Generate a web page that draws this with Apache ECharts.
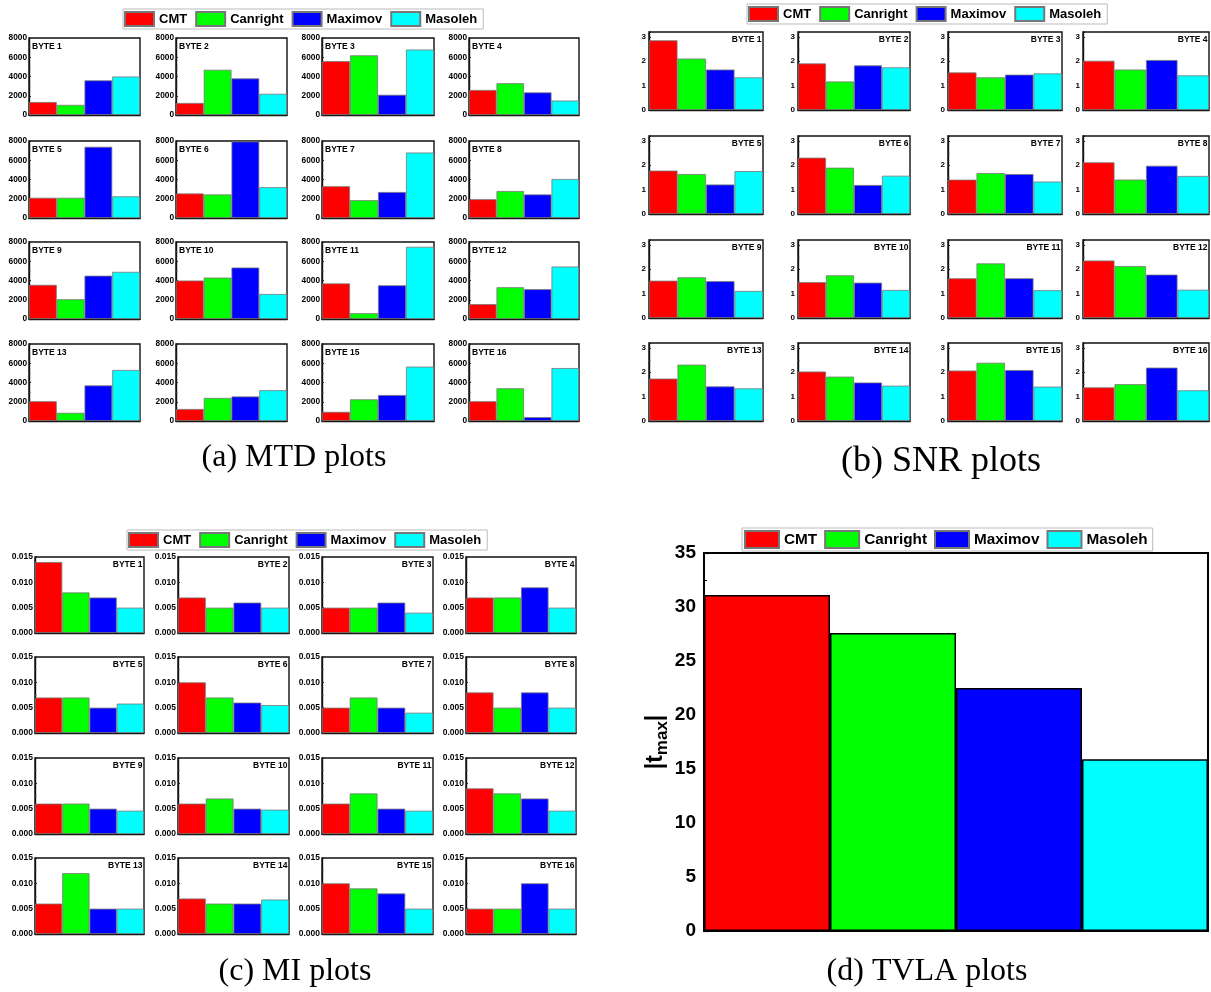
<!DOCTYPE html>
<html><head><meta charset="utf-8">
<script src="https://cdn.jsdelivr.net/npm/echarts@6/dist/echarts.min.js"></script>
<style>html,body{margin:0;padding:0;background:#fff}#c{width:1211px;height:992px}</style>
</head><body><div id="c"></div>
<script>
// ---------- DATA ----------
const methods = ['CMT', 'Canright', 'Maximov', 'Masoleh'];
const colors = ['#ff0000', '#00ff00', '#0000ff', '#00ffff'];
const byteLabels = ['BYTE 1','BYTE 2','BYTE 3','BYTE 4','BYTE 5','BYTE 6','BYTE 7','BYTE 8',
  'BYTE 9','BYTE 10','BYTE 11','BYTE 12','BYTE 13','BYTE 14','BYTE 15','BYTE 16'];
// MTD per byte: [CMT, Canright, Maximov, Masoleh]
const mtdData = [
  [1350, 1050, 3600, 4000], [1250, 4700, 3800, 2200], [5600, 6200, 2100, 6800], [2600, 3300, 2350, 1500],
  [2100, 2100, 7400, 2250], [2550, 2450, 7950, 3200], [3300, 1850, 2700, 6800], [1950, 2800, 2450, 4050],
  [3550, 2050, 4500, 4900], [4000, 4300, 5350, 2600], [3700, 600, 3500, 7500], [1550, 3300, 3100, 5450],
  [2050, 850, 3700, 5300], [1250, 2400, 2550, 3200], [950, 2250, 2700, 5650], [2050, 3400, 400, 5500]
];
const snrData = [
  [2.86, 2.11, 1.66, 1.34], [1.91, 1.17, 1.83, 1.75], [1.54, 1.34, 1.45, 1.50], [2.02, 1.66, 2.05, 1.42],
  [1.78, 1.64, 1.21, 1.76], [2.31, 1.90, 1.19, 1.57], [1.41, 1.68, 1.64, 1.33], [2.12, 1.41, 1.98, 1.56],
  [1.53, 1.67, 1.51, 1.11], [1.47, 1.75, 1.45, 1.15], [1.63, 2.24, 1.63, 1.14], [2.36, 2.13, 1.78, 1.16],
  [1.74, 2.31, 1.42, 1.34], [2.03, 1.82, 1.58, 1.45], [2.07, 2.39, 2.09, 1.41], [1.38, 1.51, 2.19, 1.26]
];
const miData = [
  [0.014, 0.008, 0.007, 0.005], [0.007, 0.005, 0.006, 0.005], [0.005, 0.005, 0.006, 0.004], [0.007, 0.007, 0.009, 0.005],
  [0.007, 0.007, 0.005, 0.0058], [0.010, 0.007, 0.006, 0.0055], [0.005, 0.007, 0.005, 0.004], [0.008, 0.005, 0.008, 0.005],
  [0.006, 0.006, 0.005, 0.0046], [0.006, 0.007, 0.005, 0.0048], [0.006, 0.008, 0.005, 0.0046], [0.009, 0.008, 0.007, 0.0046],
  [0.006, 0.012, 0.005, 0.005], [0.007, 0.006, 0.006, 0.0068], [0.010, 0.009, 0.008, 0.005], [0.005, 0.005, 0.010, 0.005]
];
const tvlaData = [31.1, 27.6, 22.5, 15.9];
const captions = ['(a) MTD plots', '(b) SNR plots', '(c) MI plots', '(d) TVLA plots'];

// ---------- LAYOUT ----------
const FONT = 'Liberation Sans';
const SERIF = 'Liberation Serif';
const panels = [
  { data: mtdData, min: 0, max: 8000, interval: 2000, xs: [29, 176, 322, 469], ws: [111, 111, 112, 110],
    ys: [38, 141, 242, 344], h: 77, titleAlign: 'left', fmt: v => String(v), labelSize: 8.3, labelMargin: 2,
    hideTitle: [13], showMax: true },
  { data: snrData, min: 0, max: 3.2, interval: 1, xs: [649, 798, 948, 1083], ws: [114, 112, 114, 126],
    ys: [32, 136, 240, 343], h: 78, titleAlign: 'right', fmt: v => String(v), labelSize: 8, labelMargin: 3,
    hideTitle: [], showMax: false },
  { data: miData, min: 0, max: 0.015, interval: 0.005, xs: [35, 178, 322, 466], ws: [109, 111, 111, 110],
    ys: [557, 657, 758, 858], h: 76, titleAlign: 'right', fmt: v => v.toFixed(3), labelSize: 8.5, labelMargin: 2,
    hideTitle: [], showMax: true }
];

const grids = [], xAxes = [], yAxes = [], series = [], graphics = [];

function addBars(gi, values, borderColor, borderWidth) {
  methods.forEach((m, k) => {
    series.push({
      type: 'bar', name: m, xAxisIndex: gi, yAxisIndex: gi, stack: 'g' + gi,
      barCategoryGap: '0%', silent: true, animation: false,
      data: methods.map((_, j) => j === k ? values[k] : '-'),
      itemStyle: { color: colors[k], borderColor: borderColor, borderWidth: borderWidth }
    });
  });
}

panels.forEach(p => {
  p.data.forEach((vals, b) => {
    const row = Math.floor(b / 4), col = b % 4;
    const gi = grids.length;
    const left = p.xs[col], top = p.ys[row], width = p.ws[col], height = p.h;
    grids.push({ left, top, width, height, show: true, borderColor: '#111', borderWidth: 1.4 });
    xAxes.push({
      gridIndex: gi, type: 'category', data: methods,
      axisLabel: { show: false },
      axisLine: { lineStyle: { color: '#111', width: 1.4 } },
      axisTick: { show: true, inside: true, alignWithLabel: true, length: 2, lineStyle: { color: '#222' } }
    });
    yAxes.push({
      gridIndex: gi, type: 'value', min: p.min, max: p.max, interval: p.interval,
      splitLine: { show: false },
      axisLine: { show: true, lineStyle: { color: '#111', width: 1.4 } },
      axisTick: { show: true, inside: true, length: 2, lineStyle: { color: '#222' } },
      minorTick: { show: true, splitNumber: 2, length: 1.5, lineStyle: { color: '#444' } },
      axisLabel: { fontSize: p.labelSize, fontWeight: 'bold', fontFamily: FONT, color: '#000',
        margin: p.labelMargin, formatter: p.fmt, showMaxLabel: p.showMax }
    });
    addBars(gi, vals, '#777', 0.8);
    if (p.hideTitle.indexOf(b) < 0) {
      const isLeft = p.titleAlign === 'left';
      graphics.push({
        type: 'text', z: 100, silent: true,
        style: {
          x: isLeft ? left + 3 : left + width - 1.5, y: top + (isLeft ? 4 : 3),
          text: byteLabels[b], fill: '#000', font: 'bold 8.5px ' + FONT,
          align: isLeft ? 'left' : 'right', verticalAlign: 'top'
        }
      });
    }
  });
});

// Big TVLA panel
const gd = grids.length;
grids.push({ left: 704, top: 553, width: 504, height: 378, show: true, borderColor: '#000', borderWidth: 2 });
xAxes.push({
  gridIndex: gd, type: 'category', data: methods, axisLabel: { show: false },
  axisLine: { lineStyle: { color: '#000', width: 2 } },
  axisTick: { show: true, inside: true, alignWithLabel: true, length: 5, lineStyle: { color: '#000', width: 1.2 } }
});
yAxes.push({
  gridIndex: gd, type: 'value', min: 0, max: 35, interval: 5, splitLine: { show: false },
  axisLine: { show: true, lineStyle: { color: '#000', width: 2 } },
  axisTick: { show: true, inside: true, length: 5, lineStyle: { color: '#000', width: 1.2 } },
  minorTick: { show: true, splitNumber: 2, length: 3, lineStyle: { color: '#000' } },
  axisLabel: { fontSize: 19, fontWeight: 'bold', fontFamily: FONT, color: '#000', margin: 8 },
  name: '{n||t}{s|max}{n||}', nameLocation: 'middle', nameGap: 24, nameRotate: 90,
  nameTextStyle: {
    rich: {
      n: { fontSize: 23, fontWeight: 'bold', fontFamily: FONT, color: '#000', lineHeight: 30 },
      s: { fontSize: 17, fontWeight: 'bold', fontFamily: FONT, color: '#000', lineHeight: 30, padding: [14, 0, 0, 0] }
    }
  }
});
addBars(gd, tvlaData, '#000', 1.5);

// Captions
const capPos = [[294, 458, 32], [941, 462, 36], [295, 972, 32], [927, 972, 32]];
captions.forEach((c, i) => {
  graphics.push({
    type: 'text', silent: true,
    style: { x: capPos[i][0], y: capPos[i][1], text: c, fill: '#000',
      font: capPos[i][2] + 'px ' + SERIF, align: 'center', verticalAlign: 'middle' }
  });
});

const legendBase = {
  data: methods, icon: 'rect', itemWidth: 29, itemHeight: 14, itemGap: 8, selectedMode: false,
  textStyle: { fontSize: 13, fontWeight: 'bold', fontFamily: FONT, color: '#000' },
  borderColor: '#bbb', borderWidth: 1, padding: [2, 6, 2, 1], orient: 'horizontal'
};
const legends = [
  Object.assign({}, legendBase, { left: 123, top: 9 }),
  Object.assign({}, legendBase, { left: 747, top: 4 }),
  Object.assign({}, legendBase, { left: 127, top: 530 }),
  Object.assign({}, legendBase, { left: 742, top: 528, itemWidth: 34, itemHeight: 17, itemGap: 7,
    padding: [2, 5, 2, 2],
    textStyle: { fontSize: 15.3, fontWeight: 'bold', fontFamily: FONT, color: '#000' } })
];

const chart = echarts.init(document.getElementById('c'), null, { renderer: 'canvas', width: 1211, height: 992 });
chart.setOption({
  animation: false,
  backgroundColor: '#ffffff',
  legend: legends,
  grid: grids,
  xAxis: xAxes,
  yAxis: yAxes,
  series: series,
  graphic: graphics
});
</script>
</body></html>
